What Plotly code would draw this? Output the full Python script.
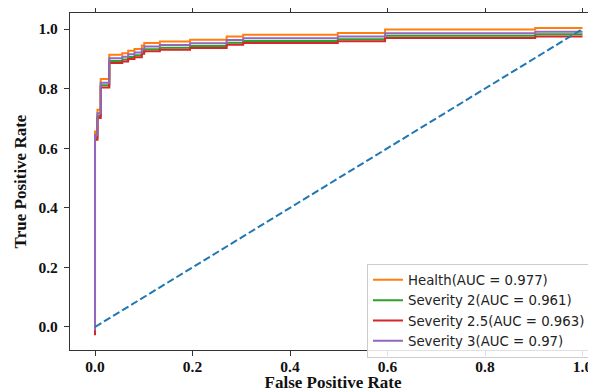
import plotly.graph_objects as go

# ROC step points (false positive rate) shared by the curves
fpr = [0.0, 0.0, 0.005, 0.0117, 0.0293, 0.056, 0.068, 0.081, 0.096, 0.101,
       0.133, 0.195, 0.270, 0.304, 0.498, 0.595, 0.903, 1.0]

tpr_health = [0.0, 0.656, 0.729, 0.832, 0.914, 0.919, 0.927, 0.933, 0.945, 0.953,
              0.958, 0.964, 0.975, 0.981, 0.987, 0.998, 1.003, 1.003]
tpr_sev2 = [-0.021, 0.635, 0.708, 0.811, 0.893, 0.898, 0.906, 0.912, 0.924, 0.932,
            0.937, 0.943, 0.954, 0.960, 0.966, 0.977, 0.982, 0.982]
tpr_sev25 = [-0.028, 0.628, 0.701, 0.804, 0.886, 0.891, 0.899, 0.905, 0.917, 0.925,
             0.930, 0.936, 0.947, 0.953, 0.959, 0.970, 0.975, 0.975]
tpr_sev3 = [-0.012, 0.644, 0.717, 0.820, 0.902, 0.907, 0.915, 0.921, 0.933, 0.941,
            0.946, 0.952, 0.963, 0.969, 0.975, 0.986, 0.991, 0.991]

labels = ["Health(AUC = 0.977)", "Severity 2(AUC = 0.961)",
          "Severity 2.5(AUC = 0.963)", "Severity 3(AUC = 0.97)"]
colors = ["#ff7f0e", "#2ca02c", "#d62728", "#9467bd"]
series = [tpr_health, tpr_sev2, tpr_sev25, tpr_sev3]

diag_x = [0, 1]
diag_y = [0, 1]

tick_vals = [0.0, 0.2, 0.4, 0.6, 0.8, 1.0]
tick_text = ["0.0", "0.2", "0.4", "0.6", "0.8", "1.0"]

fig = go.Figure()
for lab, col, tp in zip(labels, colors, series):
    fig.add_trace(go.Scatter(x=fpr, y=tp, mode="lines", name=lab,
                             line=dict(color=col, width=2, shape="hv")))

fig.add_trace(go.Scatter(x=diag_x, y=diag_y, mode="lines", showlegend=False,
                         line=dict(color="#1f77b4", width=2, dash="7.4px,3.2px")))

tickfont = dict(family="Liberation Serif", size=15.5, color="#111", weight="bold")
titlefont = dict(family="Liberation Serif", size=17, color="#111", weight="bold")

# page body has an 8px margin, so the figure is 8px smaller on each side
fig.update_layout(
    width=588, height=384,
    margin=dict(l=62, r=0, t=5, b=42, autoexpand=False),
    paper_bgcolor="white", plot_bgcolor="white",
    legend=dict(x=0.5646, y=0.256, xanchor="left", yanchor="top",
                bgcolor="rgba(255,255,255,0.85)", bordercolor="#cccccc", borderwidth=1,
                font=dict(family="DejaVu Sans", size=13.3, color="#222"),
                itemwidth=30, tracegroupgap=0, entrywidth=240, entrywidthmode="pixels"),
    xaxis=dict(range=[-0.0513, 1.0277], tickvals=tick_vals, ticktext=tick_text,
               showline=True, linecolor="#333", linewidth=1.2, mirror="ticks",
               ticks="outside", ticklen=5, tickcolor="#333", tickwidth=1.2,
               showgrid=False, zeroline=False, ticklabelstandoff=-3,
               tickfont=tickfont,
               title=dict(text="False Positive Rate", font=titlefont, standoff=0)),
    yaxis=dict(range=[-0.0772, 1.0537], tickvals=tick_vals, ticktext=tick_text,
               showline=True, linecolor="#333", linewidth=1.2,
               ticks="outside", ticklen=5, tickcolor="#333", tickwidth=1.2,
               showgrid=False, zeroline=False, ticklabelstandoff=3,
               tickfont=tickfont,
               title=dict(text="True Positive Rate", font=titlefont, standoff=7)),
)

fig.write_html("out.html")
